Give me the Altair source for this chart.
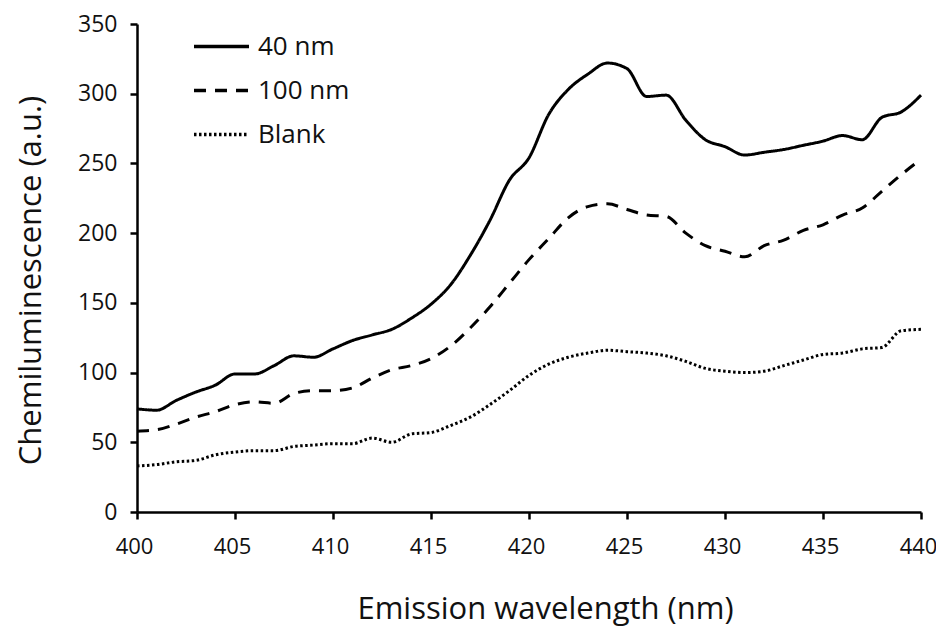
import altair as alt
import pandas as pd

wavelength = list(range(400, 441))

nm40 = [74, 73, 80, 86, 91, 99, 99, 105, 112, 111,
        117, 123, 127, 131, 139, 149, 163, 184, 209, 238,
        254, 285, 303, 314, 322, 318, 298, 299, 281, 267,
        262, 256, 258, 260, 263, 266, 270, 267, 283, 287, 299]

nm100 = [58, 59, 63, 68, 72, 77, 79, 78, 85, 87,
         87, 89, 96, 102, 105, 110, 119, 132, 147, 164,
         181, 196, 211, 219, 221, 217, 213, 212, 200, 191,
         187, 183, 191, 195, 202, 206, 213, 218, 230, 242, 253]

blank = [33, 34, 36, 37, 41, 43, 44, 44, 47, 48,
         49, 49, 53, 50, 56, 57, 62, 68, 77, 87,
         98, 106, 111, 114, 116, 115, 114, 112, 108, 103,
         101, 100, 101, 105, 109, 113, 114, 117, 118, 130, 131]

series_names = ["40 nm", "100 nm", "Blank"]
x_ticks = [400, 405, 410, 415, 420, 425, 430, 435, 440]
y_ticks = [0, 50, 100, 150, 200, 250, 300, 350]

rows = []
for name, vals in zip(series_names, [nm40, nm100, blank]):
    for w, v in zip(wavelength, vals):
        rows.append({"wavelength": w, "value": v, "series": name})
df = pd.DataFrame(rows)

FONT = "Open Sans"

chart = alt.Chart(df).mark_line(
    color="black", strokeWidth=3, interpolate="monotone"
).encode(
    x=alt.X("wavelength:Q",
            scale=alt.Scale(domain=[400, 440], nice=False, zero=False),
            axis=alt.Axis(values=x_ticks, title="Emission wavelength (nm)",
                          labelFlush=False, labelPadding=17, labelOffset=-3,
                          labelFontSize=22,
                          titleX=408, titleY=106, titleAlign="center",
                          titleBaseline="alphabetic", titleFontSize=31)),
    y=alt.Y("value:Q",
            scale=alt.Scale(domain=[0, 350], nice=False),
            axis=alt.Axis(values=y_ticks, title="Chemiluminescence  (a.u.)",
                          labelFlush=False, labelPadding=13,
                          titleX=-106, titleY=256, titleAngle=270,
                          titleAlign="center", titleBaseline="middle")),
    strokeDash=alt.StrokeDash(
        "series:N",
        scale=alt.Scale(domain=series_names, range=[[1, 0], [12, 9], [2.5, 2.5]]),
        legend=alt.Legend(title=None, orient="none", legendX=55, legendY=-7,
                          symbolType="stroke", symbolSize=3025, symbolStrokeWidth=3.5,
                          symbolStrokeColor="black", labelFontSize=26, labelFont=FONT,
                          labelColor="#111", labelOffset=7, rowPadding=1, padding=0),
    ),
    order=alt.Order("wavelength:Q"),
).properties(
    width=784, height=488,
    padding={"left": 129, "top": 16, "right": 15, "bottom": 119},
    autosize=alt.AutoSizeParams(type="none"),
).configure_view(stroke=None).configure_axis(
    grid=False, domainColor="black", domainWidth=2.5, tickColor="black",
    tickWidth=2.5, tickSize=7, labelFont=FONT, labelFontSize=23,
    labelColor="#111", titleFont=FONT, titleFontSize=31, titleColor="#111",
    titleFontWeight="normal",
)

chart.save("out.html", embed_options={"renderer": "svg", "actions": False})
